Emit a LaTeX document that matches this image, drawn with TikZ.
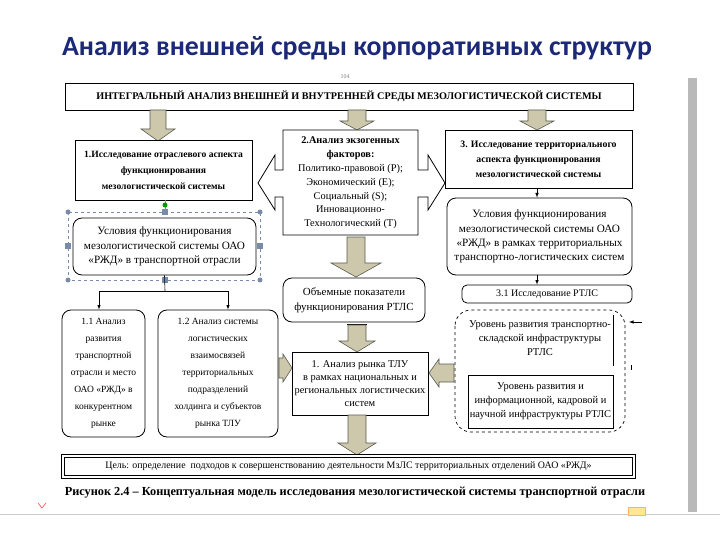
\documentclass[tikz,border=0pt]{standalone}
\usepackage{fontspec}
\setmainfont{Liberation Serif}
\newfontfamily\titlefont{Carlito}
\usetikzlibrary{calc}
\definecolor{titleblue}{RGB}{28,40,120}
\definecolor{arrfill}{RGB}{205,200,172}
\definecolor{arrline}{RGB}{90,90,80}
\definecolor{handle}{RGB}{120,140,170}
\tikzset{
  txt/.style={font=\fontsize{9.5}{14}\selectfont, align=center},
  box/.style={txt, draw, line width=0.8pt, fill=white, inner sep=1pt},
  rbox/.style={box, rounded corners=9pt},
  blockarrow/.style={fill=arrfill, draw=arrline, line width=0.6pt},
  thin/.style={-latex, line width=0.6pt},
}
% vertical block arrow: x, ytop, ybottom, shaft half width, head half width, head length
\newcommand{\bdown}[6]{\draw[blockarrow] (#1-#4,#2) -- (#1+#4,#2) -- (#1+#4,#3-#6) -- (#1+#5,#3-#6) -- (#1,#3) -- (#1-#5,#3-#6) -- (#1-#4,#3-#6) -- cycle;}
% horizontal block arrow: y, xfrom, xto, shaft half, head half, head length (signed)
\newcommand{\bhoriz}[6]{\draw[blockarrow] (#2,#1-#4) -- (#3-#6,#1-#4) -- (#3-#6,#1-#5) -- (#3,#1) -- (#3-#6,#1+#5) -- (#3-#6,#1+#4) -- (#2,#1+#4) -- cycle;}
\begin{document}
\begin{tikzpicture}[x=1pt,y=-1pt]
\useasboundingbox (0,0) rectangle (720,540);
\fill[white] (0,0) rectangle (720,540);
% title
\node[font=\titlefont\bfseries\fontsize{27.8}{32}\selectfont, text=titleblue] (title) at (357,48) {Анализ внешней среды корпоративных структур};
% page decorations
\fill[gray!55] (688,78) rectangle (697,512);
\draw[gray!40, line width=1pt] (0,514) -- (720,514);
\fill[yellow!60!orange!40, draw=orange!60] (628,507) rectangle (645,515);
\draw[red!70, line width=0.6pt] (38,503) -- (42,508) -- (46,503);
\node[font=\fontsize{6}{7}\selectfont, text=gray] (pg) at (345,77) {104};

% top box
\node[box, minimum width=568, minimum height=27, font=\bfseries\fontsize{10.2}{12}\selectfont] (top) at (349,96.5) {ИНТЕГРАЛЬНЫЙ АНАЛИЗ ВНЕШНЕЙ И ВНУТРЕННЕЙ СРЕДЫ МЕЗОЛОГИСТИЧЕСКОЙ СИСТЕМЫ};

% block arrows from top
\bdown{158}{110}{141}{8}{17}{12}
\bdown{357}{110}{130}{9}{17}{9}
\bdown{537}{110}{130}{9}{17}{9}

% box 1
\node[box, minimum width=177, minimum height=60, font=\bfseries\fontsize{9.6}{16}\selectfont] (b1) at (163.5,170) {1.Исследование отраслевого аспекта\\функционирования\\мезологистической системы};

% box 2 (left-right arrow callout)
\draw[line width=0.8pt, fill=white] (283,130) -- (418,130) -- (418,170) -- (428,170) -- (428,155) -- (445,183) -- (428,210) -- (428,197) -- (418,197) -- (418,235) -- (283,235) -- (283,197) -- (275,197) -- (275,210) -- (258,183) -- (275,155) -- (275,170) -- (283,170) -- cycle;
\node[txt, font=\fontsize{10.3}{13.8}\selectfont] (b2) at (350.5,183) {\textbf{2.Анализ экзогенных}\\\textbf{факторов:}\\Политико-правовой (P);\\Экономический (E);\\Социальный (S);\\Инновационно-\\Технологический (T)};

% box 3
\node[box, minimum width=187, minimum height=58, font=\bfseries\fontsize{9.8}{15}\selectfont] (b3) at (538.5,159) {3. Исследование территориального\\аспекта функционирования\\мезологистической системы};

% selection frame around u1
\draw[handle, dashed, line width=0.5pt] (68,212) rectangle (260,280);
\draw[handle, line width=0.6pt] (165,200) -- (165,212);
\fill[green!60!black] (165,205) circle (2.5pt);

% u1
\node[rbox, minimum width=183, minimum height=57, font=\fontsize{11.2}{14.5}\selectfont] (u1) at (164.5,246.5) {Условия функционирования\\мезологистической системы ОАО\\«РЖД» в транспортной отрасли};
\foreach \p in {(165,212),(68,246),(260,246),(165,280)} \fill[handle] \p ++(-3,-3) rectangle ++(6,6);
\foreach \p in {(68,212),(260,212),(68,280),(260,280)} \fill[handle] \p circle (2.5pt);

% u3
\node[rbox, minimum width=185, minimum height=77, font=\fontsize{11.2}{14.3}\selectfont] (u3) at (539.5,236.5) {Условия функционирования\\мезологистической системы ОАО\\«РЖД» в рамках территориальных\\транспортно-логистических систем};
\draw[thin] (b3.south -| 537,0) -- (u3.north -| 537,0);

% 3.1
\node[rbox, rounded corners=5pt, minimum width=170, minimum height=18, font=\fontsize{10}{12}\selectfont] (r31) at (547,294) {3.1 Исследование РТЛС};
\draw[thin] (u3.south -| 537,0) -- (r31.north -| 537,0);

% dashed region
\draw[dashed, line width=0.7pt, rounded corners=16pt] (455,310) rectangle (625,432);
\node[txt, font=\fontsize{10.5}{14}\selectfont] (lvl1) at (540,338) {Уровень развития транспортно-\\складской инфраструктуры\\РТЛС};
\draw[line width=0.8pt] (613,315) -- (613,366);
\node[box, minimum width=145, minimum height=53, font=\fontsize{10.4}{14}\selectfont] (lvl2) at (540.5,401.5) {Уровень развития и\\информационной, кадровой и\\научной инфраструктуры РТЛС};
\coordinate (m1) at (642,322);
\coordinate (m1e) at (629,322);
\draw[thin] (m1) -- (m1e);
\draw[line width=1pt] (631,365) -- (631,370);

% volume
\bdown{356}{237}{277}{9}{25}{14}
\node[rbox, minimum width=142, minimum height=44, font=\fontsize{10.9}{15}\selectfont] (vol) at (354,300) {Объемные показатели\\функционирования РТЛС};

% TLU
\draw[line width=0.8pt] (347,324) -- (367,324);
\bdown{357}{325}{352}{9}{18}{11}
\node[box, minimum width=136, minimum height=63, font=\fontsize{10.4}{13}\selectfont] (tlu) at (360,383.5) {1. Анализ рынка ТЛУ\\в рамках национальных и\\региональных логистических\\систем};
\bhoriz{368}{279}{292}{10}{14}{9}
\bhoriz{373}{454}{429}{9}{14}{-10}
\bdown{357}{415}{455}{9}{19}{12}

% left branch
\coordinate (br) at (165,291);
\coordinate (brl) at (99,291);
\coordinate (brr) at (228,291);
\draw[line width=0.6pt] (u1.south) -- (br);
\draw[line width=0.6pt] (brl) -- (brr);
\node[rbox, minimum width=83, minimum height=127, font=\fontsize{9.5}{17}\selectfont] (b11) at (103.5,373.5) {1.1 Анализ\\развития\\транспортной\\отрасли и место\\ОАО «РЖД» в\\конкурентном\\рынке};
\node[rbox, minimum width=120, minimum height=127, font=\fontsize{9.5}{17}\selectfont] (b12) at (218,373.5) {1.2 Анализ системы\\логистических\\взаимосвязей\\территориальных\\подразделений\\холдинга и субъектов\\рынка ТЛУ};
\draw[thin] (brl) -- (brl |- b11.north);
\draw[thin] (brr) -- (brr |- b12.north);

% goal
\node[box, double, double distance=1.5pt, minimum width=571, minimum height=21, font=\fontsize{9.9}{11}\selectfont] (goal) at (348.5,466.5) {Цель: определение\ \ подходов к совершенствованию деятельности МзЛС территориальных отделений ОАО «РЖД»};

% caption
\node[font=\bfseries\fontsize{12.3}{14}\selectfont] (cap) at (355,493) {Рисунок 2.4 – Концептуальная модель исследования мезологистической системы транспортной отрасли};
\end{tikzpicture}
\end{document}
